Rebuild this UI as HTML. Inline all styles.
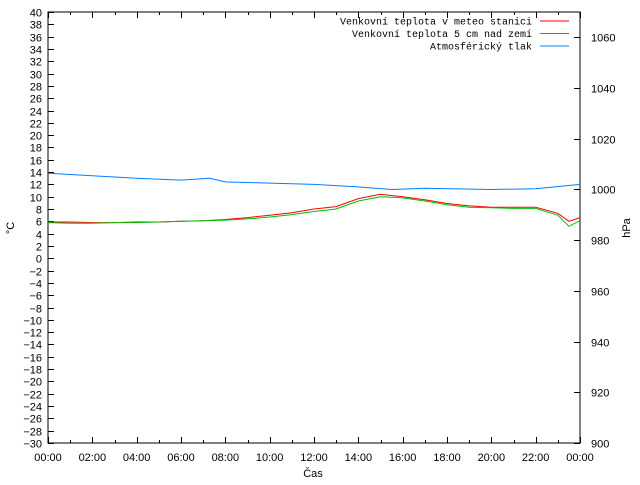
<!DOCTYPE html>
<html><head><meta charset="utf-8"><style>
body{margin:0;background:#fff}
svg text{font-family:"Liberation Sans",sans-serif;font-size:11px;fill:#000}
.lg{font-family:"Liberation Mono",monospace;font-size:10px}
</style></head><body>
<svg width="640" height="480" xmlns="http://www.w3.org/2000/svg">
<rect width="640" height="480" fill="#fff"/>
<g id="axes"></g>
<g id="series"></g>
<g id="legend"></g>
<text x="14" y="228" transform="rotate(-90 14 228)" text-anchor="middle">°C</text>
<text x="630" y="228" transform="rotate(-90 630 228)" text-anchor="middle">hPa</text>
<text x="313" y="477" text-anchor="middle">Čas</text>
</svg>
<script>
const hours=[0,1,2,3,4,5,6,7,8,9,10,11,12,13,14,15,16,17,18,19,20,21,22,23,23.5,24];
const tempStation=[5.9,5.9,5.8,5.8,5.9,5.9,6.0,6.1,6.3,6.6,7.0,7.4,8.0,8.4,9.7,10.4,10.0,9.5,8.9,8.5,8.3,8.3,8.3,7.3,6.0,6.6];
const temp5cm=[5.8,5.7,5.7,5.8,5.8,5.9,6.0,6.1,6.2,6.4,6.7,7.1,7.6,8.0,9.3,10.0,9.8,9.3,8.7,8.3,8.2,8.1,8.1,7.0,5.2,6.1];
const pHours=[0,2,4,6,7.3,8,10,12,14,15.5,17,20,22,24];
const pressure=[1006.4,1005.4,1004.4,1003.7,1004.4,1003.0,1002.5,1002.0,1001.0,1000.0,1000.5,1000.0,1000.3,1002.0];
const yTicks=[];for(let v=-30;v<=40;v+=2)yTicks.push(v);
const y2Ticks=[900,920,940,960,980,1000,1020,1040,1060];
const xTickLabels=["00:00","02:00","04:00","06:00","08:00","10:00","12:00","14:00","16:00","18:00","20:00","22:00","00:00"];
const legendLabels=["Venkovní teplota v meteo stanici","Venkovní teplota 5 cm nad zemí","Atmosférický tlak"];
const colors=["#ff0000","#00c000","#0080ff"];
const L=48,R=580,T=12,B=443;
const xs=h=>L+(R-L)*h/24;
const ys=v=>B-(B-T)*(v+30)/70;
const y2s=p=>B-(B-T)*(p-900)/170;
const NS="http://www.w3.org/2000/svg";
function mk(tag,attrs,parent){const e=document.createElementNS(NS,tag);for(const k in attrs)e.setAttribute(k,attrs[k]);parent.appendChild(e);return e;}
const ax=document.getElementById('axes');
const frame=mk('rect',{x:L,y:T,width:R-L,height:B-T,fill:'none',stroke:'#000','stroke-width':1},ax);


yTicks.forEach(v=>{
 const y=Math.round(ys(v))+0.5;
 mk('line',{x1:L,x2:L+6,y1:y,y2:y,stroke:'#000'},ax);
 const t=mk('text',{x:L-6,y:y+4,'text-anchor':'end'},ax);t.textContent=String(v).replace('-','−');
 
 
});
y2Ticks.forEach(p=>{
 const y=Math.round(y2s(p))+0.5;
 mk('line',{x1:R-6,x2:R,y1:y,y2:y,stroke:'#000'},ax);
 const t=mk('text',{x:591,y:y+4},ax);t.textContent=p;
 
 
});
for(let h=0;h<=24;h++){
 const x=Math.round(xs(h))+0.5,len=h%2?3:6;
 mk('line',{x1:x,x2:x,y1:B,y2:B-len,stroke:'#000'},ax);
 mk('line',{x1:x,x2:x,y1:T,y2:T+len,stroke:'#000'},ax);
}
xTickLabels.forEach((s,i)=>{
 const t=mk('text',{x:xs(i*2),y:B+18,'text-anchor':'middle'},ax);t.textContent=s;
 
 
});
const sg=document.getElementById('series');
function line(xv,yv,f,c,name){
 const pts=xv.map((h,i)=>xs(h).toFixed(1)+','+f(yv[i]).toFixed(1)).join(' ');
 const p=mk('polyline',{points:pts,fill:'none',stroke:c,'stroke-width':1},sg);
 
 
}
line(pHours,pressure,y2s,colors[2],'pressure-line');
line(hours,tempStation,ys,colors[0],'station-temp-line');
line(hours,temp5cm,ys,colors[1],'ground-temp-line');
const lg=document.getElementById('legend');
legendLabels.forEach((s,i)=>{
 const y=21+i*12.5;
 const t=mk('text',{x:532,y:y+3.5,'text-anchor':'end',class:'lg'},lg);t.textContent=s;
 
 
 const l=mk('line',{x1:540,x2:569,y1:y,y2:y,stroke:colors[i]},lg);
 
 
});
</script>
</body></html>
